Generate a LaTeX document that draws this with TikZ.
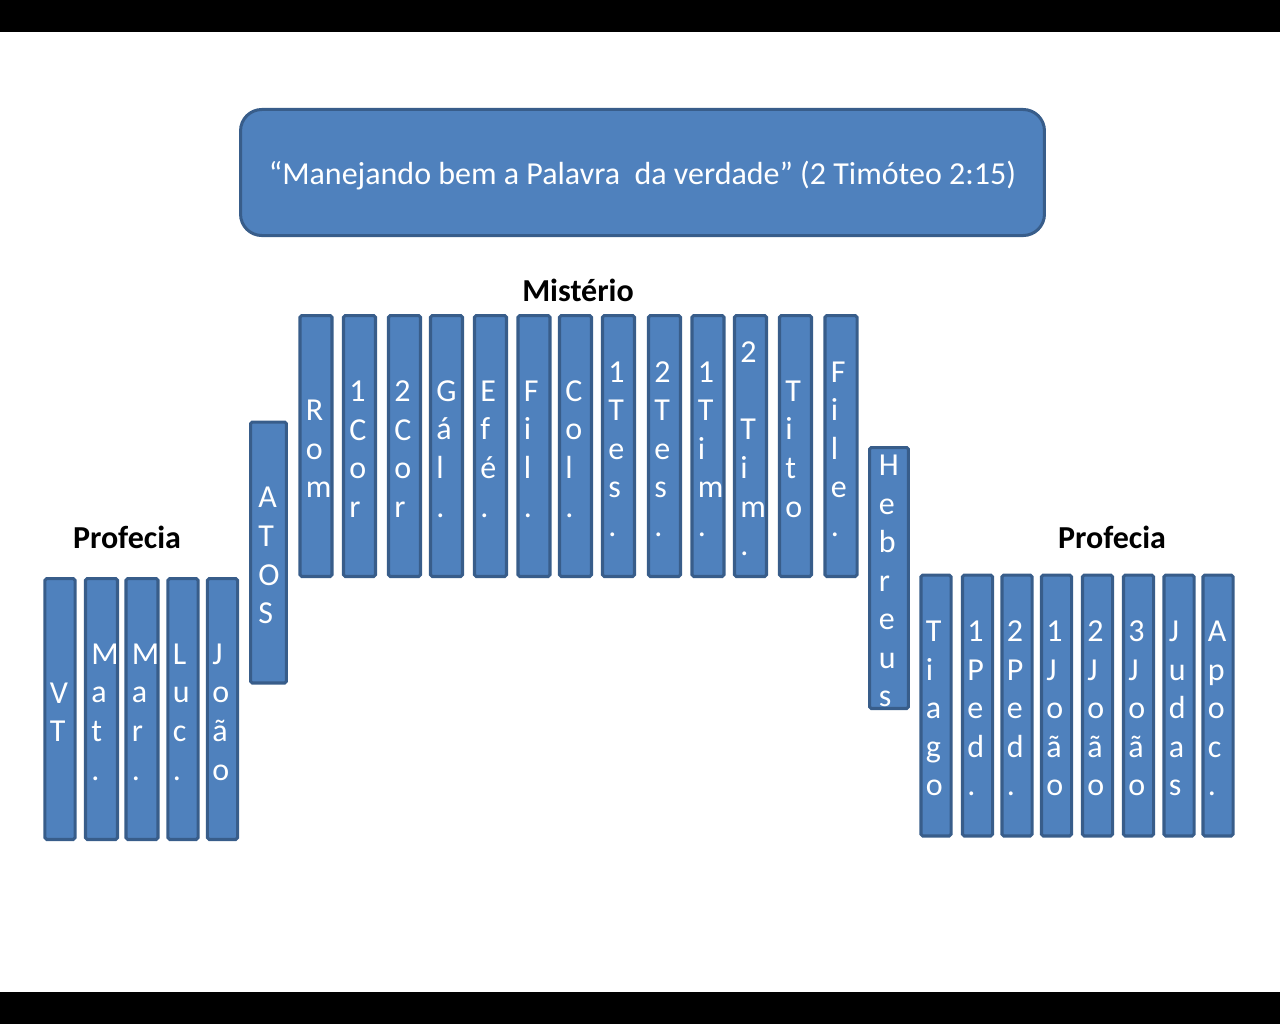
\documentclass[tikz,border=0pt]{standalone}
\usepackage{fontspec}
\setmainfont{Carlito}
\usetikzlibrary{positioning}
\definecolor{azul}{HTML}{4F81BD}
\definecolor{azulEsc}{HTML}{385D8A}
\hfuzz=20pt
\tikzstyle{livro} = [rectangle, rounded corners=1pt, fill=azul, draw=azulEsc, line width=1.7pt, text=white, text width=11.5pt, align=left, inner sep=0pt, minimum height=146.8pt, font=\fontsize{18}{21.7}\selectfont, execute at begin node={\rule{0pt}{15pt}}]
\tikzstyle{livroS} = [livro, minimum width=16.9pt]
\tikzstyle{livroM} = [livro, minimum width=18pt]
\tikzstyle{titulo} = [rectangle, rounded corners=12pt, fill=azul, draw=azulEsc, line width=1.7pt, text=white, minimum width=452.2pt, minimum height=70.9pt, text height=13.5pt, text depth=0pt, font=\fontsize{18}{21.7}\selectfont]
\tikzstyle{rotulo} = [anchor=base, inner sep=0pt, font=\fontsize{18}{21.7}\selectfont\bfseries]

\begin{document}
\begin{tikzpicture}[x=0.5625pt, y=-0.5625pt]
		\useasboundingbox (0,0) rectangle (1280,1024);
		\fill [black] (0,0) rectangle (1280,32);
		\fill [black] (0,992) rectangle (1280,1024);
		\node (titulo) [titulo] at (642.5,172.5) {“Manejando bem a Palavra~ da verdade” (2 Timóteo 2:15)};
		% Profecia (evangelhos)
		\node (profEsq) [rotulo] at (127,548) {Profecia};
		\node (vt) [livroS] at (60,709) {V\\T};
		\node (mat) [livroM] at (101.5,709) {M\\a\\t\\.};
		\node (mar) [livroM] at (142,709) {M\\a\\r\\.};
		\node (luc) [livroS] at (183,709) {L\\u\\c\\.};
		\node (joao) [livroS] at (222.5,709) {J\\o\\ã\\o};
		\node (atos) [livro, minimum width=20.2pt] at (268.5,552.5) {A\\T\\O\\S};
		% Misterio (cartas de Paulo)
		\node (misterio) [rotulo] at (578,301) {Mistério};
		\node (rom) [livroM] at (316,446) {R\\o\\m};
		\node (cor1) [livroM] at (359.5,446) {1\\C\\o\\r};
		\node (cor2) [livroM] at (404.5,446) {2\\C\\o\\r};
		\node (gal) [livroM] at (446.5,446) {G\\á\\l\\.};
		\node (efe) [livroM] at (490.5,446) {E\\f\\é\\.};
		\node (fil) [livroM] at (534,446) {F\\i\\l\\.};
		\node (col) [livroM] at (575.5,446) {C\\o\\l\\.};
		\node (tes1) [livroM] at (618.5,446) {1\\T\\e\\s\\.};
		\node (tes2) [livroM] at (664.5,446) {2\\T\\e\\s\\.};
		\node (tim1) [livroM] at (708,446) {1\\T\\i\\m\\.};
		\node (tim2) [livroM] at (750.5,446) {2\\~\\T\\i\\m\\.};
		\node (tito) [livroM] at (795.5,446) {T\\i\\t\\o};
		\node (file) [livroM] at (841,446) {F\\i\\l\\e\\.};
		\node (hebreus) [livro, minimum width=21.9pt] at (889,578) {H\\e\\b\\r\\e\\u\\s};
		% Profecia (cartas gerais)
		\node (profDir) [rotulo] at (1112,548) {Profecia};
		\node (tiago) [livroS] at (936,705.5) {T\\i\\a\\g\\o};
		\node (ped1) [livroS] at (977.5,705.5) {1\\P\\e\\d\\.};
		\node (ped2) [livroS] at (1017,705.5) {2\\P\\e\\d\\.};
		\node (joao1) [livroS] at (1056.5,705.5) {1\\J\\o\\ã\\o};
		\node (joao2) [livroS] at (1097.5,705.5) {2\\J\\o\\ã\\o};
		\node (joao3) [livroS] at (1138.5,705.5) {3\\J\\o\\ã\\o};
		\node (judas) [livroS] at (1179,705.5) {J\\u\\d\\a\\s};
		\node (apoc) [livroS] at (1218,705.5) {A\\p\\o\\c\\.};
	\end{tikzpicture}
\end{document}
